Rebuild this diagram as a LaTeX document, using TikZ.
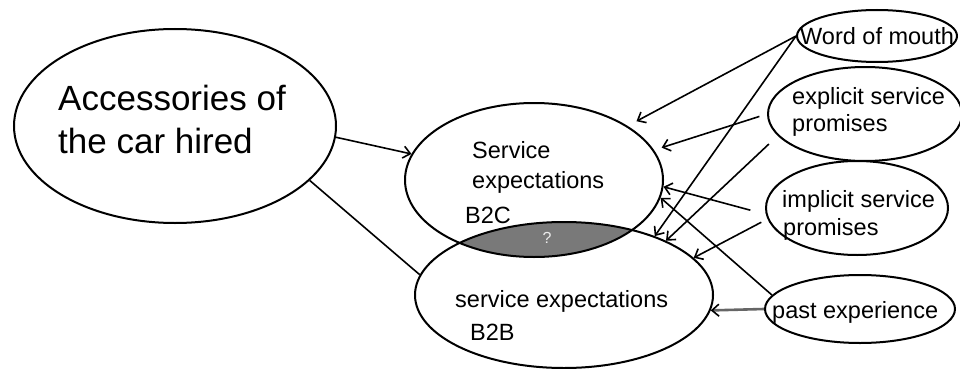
\documentclass[tikz,border=0pt]{standalone}
\usepackage{fontspec}
\setmainfont{Liberation Sans}
\usetikzlibrary{shapes.geometric,arrows.meta}
\begin{document}
\begin{tikzpicture}[x=1pt,y=-1pt,
  oval/.style={ellipse, draw=black, line width=2pt, inner sep=0pt},
  lbl/.style={anchor=base west, inner sep=0pt, font=\fontsize{23.5}{28}\selectfont},
  big/.style={anchor=base west, inner sep=0pt, font=\fontsize{35}{43}\selectfont},
  conn/.style={line width=1.6pt, -{Straight Barb[length=7pt,width=12pt]}},
  link/.style={line width=1.6pt}]
\useasboundingbox (0,0) rectangle (960,369);
\fill[white] (0,0) rectangle (960,369);
% overlap of the two expectation ellipses
\begin{scope}
\clip (534,180) ellipse [x radius=129pt, y radius=77pt];
\fill[gray!95!black] (564,295) ellipse [x radius=149pt, y radius=73pt];
\end{scope}
\node[oval, minimum width=322pt, minimum height=194pt] (acc) at (175,126) {};
\node[oval, minimum width=258pt, minimum height=154pt] (b2c) at (534,180) {};
\node[oval, minimum width=298pt, minimum height=146pt] (b2b) at (564,295) {};
\node[oval, minimum width=160pt, minimum height=52pt] (wom) at (877,36) {};
\node[oval, minimum width=194pt, minimum height=94pt] (exp) at (865,114) {};
\node[oval, minimum width=182pt, minimum height=94pt] (imp) at (857,208) {};
\node[oval, minimum width=190pt, minimum height=68pt] (past) at (860,309) {};
% texts
\node[big] (acct1) at (58,110) {Accessories of};
\node[big] (acct2) at (58,153) {the car hired};
\node[lbl] (b2ct1) at (472,158) {Service};
\node[lbl] (b2ct2) at (472,188) {expectations};
\node[lbl] (b2ct3) at (465,223) {B2C};
\node[lbl] (b2bt1) at (455,307) {service expectations};
\node[lbl] (b2bt2) at (470,340) {B2B};
\node[lbl] (womt) at (800,45) {Word of mouth};
\node[lbl] (expt1) at (792,104) {explicit service};
\node[lbl] (expt2) at (792,131) {promises};
\node[lbl] (impt1) at (782,207) {implicit service};
\node[lbl] (impt2) at (783,235) {promises};
\node[lbl] (pastt) at (772,318) {past experience};
\node[font=\fontsize{16}{18}\selectfont, text=white!85!gray, inner sep=0pt] (q) at (547,238) {?};
% connectors
\draw[conn] (acc.-4) -- (b2c.168);
\draw[link] (acc.-22) -- (b2b.172);
\draw[conn, shorten >=10pt] (wom.west) -- (b2c.30);
\draw[conn] (wom.west) -- (b2b.33);
\draw[conn, shorten <=8pt, shorten >=8pt] (exp.west) -- (b2c.14);
\draw[conn, shorten <=12pt] (exp.194) -- (b2b.28);
\draw[conn, shorten <=16pt] (imp.184) -- (b2c.-3);
\draw[conn, shorten <=7pt] (imp.187) -- (b2b.16);
\draw[conn] (past.171) -- (b2c.-8);
\draw[line width=2.6pt, draw=black!60, -{Straight Barb[length=7pt,width=12pt,color=black,line width=1.6pt]}] (past.west) -- (b2b.-6);
\end{tikzpicture}
\end{document}
